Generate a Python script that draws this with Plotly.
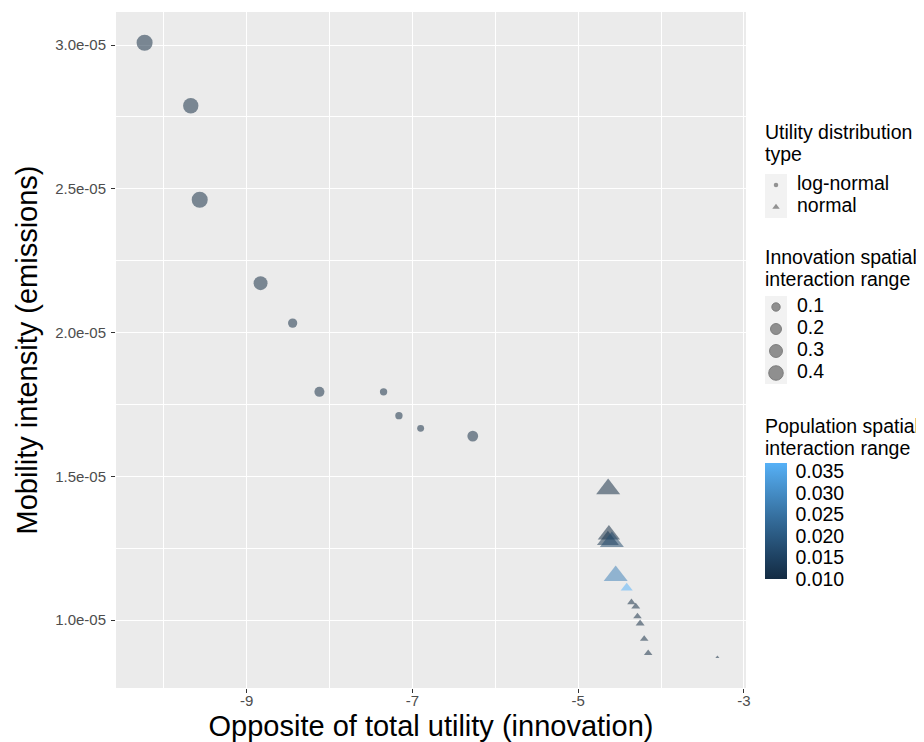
import numpy as np
import plotly.graph_objects as go

# ---------------- data ----------------
circle_x = [-10.23, -9.673, -9.565, -8.831, -8.444, -8.121, -7.347, -7.162, -6.900, -6.271]
circle_y = [3.008e-05, 2.789e-05, 2.462e-05, 2.172e-05, 2.033e-05,
            1.794e-05, 1.794e-05, 1.711e-05, 1.667e-05, 1.640e-05]
circle_innov = [0.50, 0.45, 0.50, 0.36, 0.13, 0.16, 0.07, 0.07, 0.06, 0.19]
circle_pop = [0.010, 0.010, 0.010, 0.010, 0.010, 0.010, 0.010, 0.010, 0.010, 0.010]

tri_x = [-4.638, -4.629, -4.641, -4.593, -4.547, -4.414, -4.357, -4.305,
         -4.284, -4.252, -4.203, -4.155, -3.32]
tri_y = [1.456e-05, 1.297e-05, 1.278e-05, 1.2725e-05, 1.154e-05, 1.112e-05,
         1.062e-05, 1.047e-05, 1.013e-05, 0.9885e-05, 0.935e-05, 0.885e-05, 0.871e-05]
tri_innov = [0.50, 0.42, 0.40, 0.50, 0.50, 0.09, 0.035, 0.04, 0.035, 0.04, 0.035, 0.035, 0.01]
tri_pop = [0.010, 0.010, 0.012, 0.017, 0.028, 0.037, 0.010, 0.010,
           0.010, 0.010, 0.010, 0.010, 0.010]

shape_title = ["Utility distribution", "type"]
shape_labels = ["log-normal", "normal"]
size_title = ["Innovation spatial", "interaction range"]
size_breaks = [0.1, 0.2, 0.3, 0.4]
color_title = ["Population spatial", "interaction range"]
color_breaks = [0.010, 0.015, 0.020, 0.025, 0.030, 0.035]
color_labels = ["0.010", "0.015", "0.020", "0.025", "0.030", "0.035"]
x_ticks = [-9, -7, -5, -3]
x_minor = [-10, -8, -6, -4]
y_ticks = [1.0e-05, 1.5e-05, 2.0e-05, 2.5e-05, 3.0e-05]
y_ticklabels = ["1.0e-05", "1.5e-05", "2.0e-05", "2.5e-05", "3.0e-05"]
y_minor = [0.75e-05, 1.25e-05, 1.75e-05, 2.25e-05, 2.75e-05]

# ---------------- scales / styles ----------------
SIZE_MIN, SIZE_MAX = 0.01, 0.50
POP_MIN, POP_MAX = 0.010, 0.037
ALPHA = 0.53
FONT = "Liberation Sans, Arial, Helvetica, sans-serif"
OFF = 8                      # page body margin of the html page
W, H = 924 - OFF, 742 - OFF  # figure size so that it ends at the window edge


def px(v):
    """window pixel -> figure pixel"""
    return v - OFF


ML = px(116)
MT = px(12)
MB = H - px(688)
PANEL_R = px(746)
LEG_TXT = 19.5
TITLE_SZ = 29


def diam(v):
    v = np.asarray(v, dtype=float)
    t = np.clip((v - SIZE_MIN) / (SIZE_MAX - SIZE_MIN), 0, 1)
    return 2.67 * (1 + 5 * np.sqrt(t))


def hex2rgb(h):
    h = h.lstrip('#')
    return np.array([int(h[i:i + 2], 16) for i in (0, 2, 4)]) / 255.0


def rgb2lab(c):
    c = np.where(c > 0.04045, ((c + 0.055) / 1.055) ** 2.4, c / 12.92)
    M = np.array([[0.4124, 0.3576, 0.1805], [0.2126, 0.7152, 0.0722], [0.0193, 0.1192, 0.9505]])
    xyz = M @ c / np.array([0.95047, 1.0, 1.08883])
    f = np.where(xyz > 0.008856, np.cbrt(xyz), 7.787 * xyz + 16 / 116)
    return np.array([116 * f[1] - 16, 500 * (f[0] - f[1]), 200 * (f[1] - f[2])])


def lab2rgb(lab):
    fy = (lab[0] + 16) / 116
    fx = fy + lab[1] / 500
    fz = fy - lab[2] / 200
    f = np.array([fx, fy, fz])
    xyz = np.where(f ** 3 > 0.008856, f ** 3, (f - 16 / 116) / 7.787) * np.array([0.95047, 1.0, 1.08883])
    Mi = np.array([[3.2406, -1.5372, -0.4986], [-0.9689, 1.8758, 0.0415], [0.0557, -0.2040, 1.0570]])
    c = Mi @ xyz
    c = np.where(c > 0.0031308, 1.055 * np.clip(c, 0, None) ** (1 / 2.4) - 0.055, 12.92 * c)
    c = np.clip(c, 0, 1)
    return '#%02x%02x%02x' % tuple(int(round(x * 255)) for x in c)


lo, hi = rgb2lab(hex2rgb('#132B43')), rgb2lab(hex2rgb('#56B1F7'))
colorscale = [[float(s), lab2rgb(lo + (hi - lo) * s)] for s in np.linspace(0, 1, 11)]

fig = go.Figure()

# ---------------- main marks ----------------
fig.add_trace(go.Scatter(
    x=circle_x, y=circle_y, mode='markers', showlegend=False, hoverinfo='skip',
    marker=dict(symbol='circle', size=diam(circle_innov), color=circle_pop,
                coloraxis='coloraxis', opacity=ALPHA, line=dict(width=0)),
))
fig.add_trace(go.Scatter(
    x=tri_x, y=tri_y, mode='markers', showlegend=False, hoverinfo='skip',
    marker=dict(symbol='triangle-up', size=1.3 * diam(tri_innov), color=tri_pop,
                coloraxis='coloraxis', opacity=ALPHA, line=dict(width=0)),
))

# ---------------- guide panel (pixel-unit axes x2/y2, window coordinates) ----------------
GUIDE_L = 752
KEY_X = 776
KEY = 22
TXT_X = 797
TITLE_X = 763
TITLE_LH = 22

l1_title_y = 132
l1_y = [185 + KEY * i for i in range(len(shape_labels))]
l2_title_y = 257
l2_y = [307 + KEY * i for i in range(len(size_breaks))]
cb_title_y = 426
CB_TOP, CB_BOT = 463, 579


def key_boxes(ys):
    return go.Scatter(x=[KEY_X] * len(ys), y=ys, mode='markers', xaxis='x2', yaxis='y2',
                      showlegend=False, hoverinfo='skip',
                      marker=dict(symbol='square', size=KEY, color='#F2F2F2', line=dict(width=0)))


fig.add_trace(key_boxes(l1_y))
fig.add_trace(key_boxes(l2_y))

fig.add_trace(go.Scatter(
    x=[KEY_X] * 2, y=l1_y, mode='markers', xaxis='x2', yaxis='y2', showlegend=False, hoverinfo='skip',
    marker=dict(symbol=['circle', 'triangle-up'], size=[4.5, 6.5], color='#6A6A6A', line=dict(width=0)),
))
fig.add_trace(go.Scatter(
    x=[KEY_X] * len(size_breaks), y=l2_y, mode='markers', xaxis='x2', yaxis='y2',
    showlegend=False, hoverinfo='skip',
    marker=dict(symbol='circle', size=diam(size_breaks), color='#666666',
                line=dict(width=0.9, color='#444444')),
))
fig.add_trace(go.Scatter(
    x=[TXT_X] * (len(shape_labels) + len(size_breaks)), y=l1_y + l2_y,
    text=shape_labels + [f"{b:.1f}" for b in size_breaks],
    mode='text', textposition='middle right', xaxis='x2', yaxis='y2',
    showlegend=False, hoverinfo='skip',
    textfont=dict(size=LEG_TXT, family=FONT, color='black'),
))

annotations = []
for lines, y0 in [(shape_title, l1_title_y), (size_title, l2_title_y), (color_title, cb_title_y)]:
    for i, t in enumerate(lines):
        annotations.append(dict(text=t, x=TITLE_X, y=y0 + TITLE_LH * i, xref='x2', yref='y2',
                                xanchor='left', yanchor='middle', showarrow=False,
                                font=dict(size=LEG_TXT, family=FONT, color='black')))

plot_w = W - ML
plot_h = H - MT - MB
main_dom = (PANEL_R - ML) / plot_w
guide_dom = (px(GUIDE_L) - ML) / plot_w

fig.update_layout(
    width=W, height=H,
    margin=dict(l=ML, r=0, t=MT, b=MB, autoexpand=False, pad=0),
    paper_bgcolor='white', plot_bgcolor='#EBEBEB',
    font=dict(family=FONT, color='black'),
    annotations=annotations,
    xaxis=dict(
        domain=[0, main_dom], automargin=False,
        range=[-10.575, -2.975], tickvals=x_ticks, ticktext=[str(t) for t in x_ticks],
        showgrid=True, gridcolor='white', gridwidth=1.1, zeroline=False,
        ticks='outside', ticklen=4, tickwidth=1, tickcolor='#333333',
        ticklabelstandoff=-5,
        tickfont=dict(size=15, color='#4D4D4D', family=FONT),
        minor=dict(tickvals=x_minor, showgrid=True, gridcolor='white', gridwidth=0.5, ticks=''),
        title=dict(text='Opposite of total utility (innovation)', font=dict(size=TITLE_SZ, family=FONT),
                   standoff=7),
        showline=False,
    ),
    yaxis=dict(
        automargin=False,
        range=[7.64e-06, 31.15e-06], tickvals=y_ticks, ticktext=y_ticklabels,
        showgrid=True, gridcolor='white', gridwidth=1.1, zeroline=False,
        ticks='outside', ticklen=4, tickwidth=1, tickcolor='#333333',
        ticklabelstandoff=2,
        tickfont=dict(size=15, color='#4D4D4D', family=FONT),
        minor=dict(tickvals=y_minor, showgrid=True, gridcolor='white', gridwidth=0.5, ticks=''),
        title=dict(text='Mobility intensity (emissions)', font=dict(size=TITLE_SZ, family=FONT),
                   standoff=8),
        showline=False,
    ),
    xaxis2=dict(domain=[guide_dom, 1], range=[GUIDE_L, 924], visible=False, fixedrange=True, anchor='y2'),
    yaxis2=dict(domain=[0, 1], range=[688, 12], visible=False, fixedrange=True, anchor='x2'),
    coloraxis=dict(
        colorscale=colorscale, cmin=POP_MIN, cmax=POP_MAX,
        colorbar=dict(
            x=(px(765) - ML) / plot_w, xanchor='left', xref='paper',
            y=1 - (px(CB_BOT) - MT) / plot_h, yanchor='bottom', yref='paper',
            len=CB_BOT - CB_TOP, lenmode='pixels', thickness=22, thicknessmode='pixels',
            outlinewidth=0, tickvals=color_breaks, ticktext=color_labels,
            ticks='outside', ticklen=5, tickcolor='rgba(255,255,255,0)', tickwidth=1,
            tickfont=dict(size=LEG_TXT, family=FONT, color='black'),
            ypad=0, xpad=0,
        ),
    ),
)
fig.add_shape(type='rect', xref='x2 domain', yref='y2 domain', x0=0, x1=1, y0=0, y1=1,
              fillcolor='white', line=dict(width=0), layer='below')

fig.write_html("out.html")
